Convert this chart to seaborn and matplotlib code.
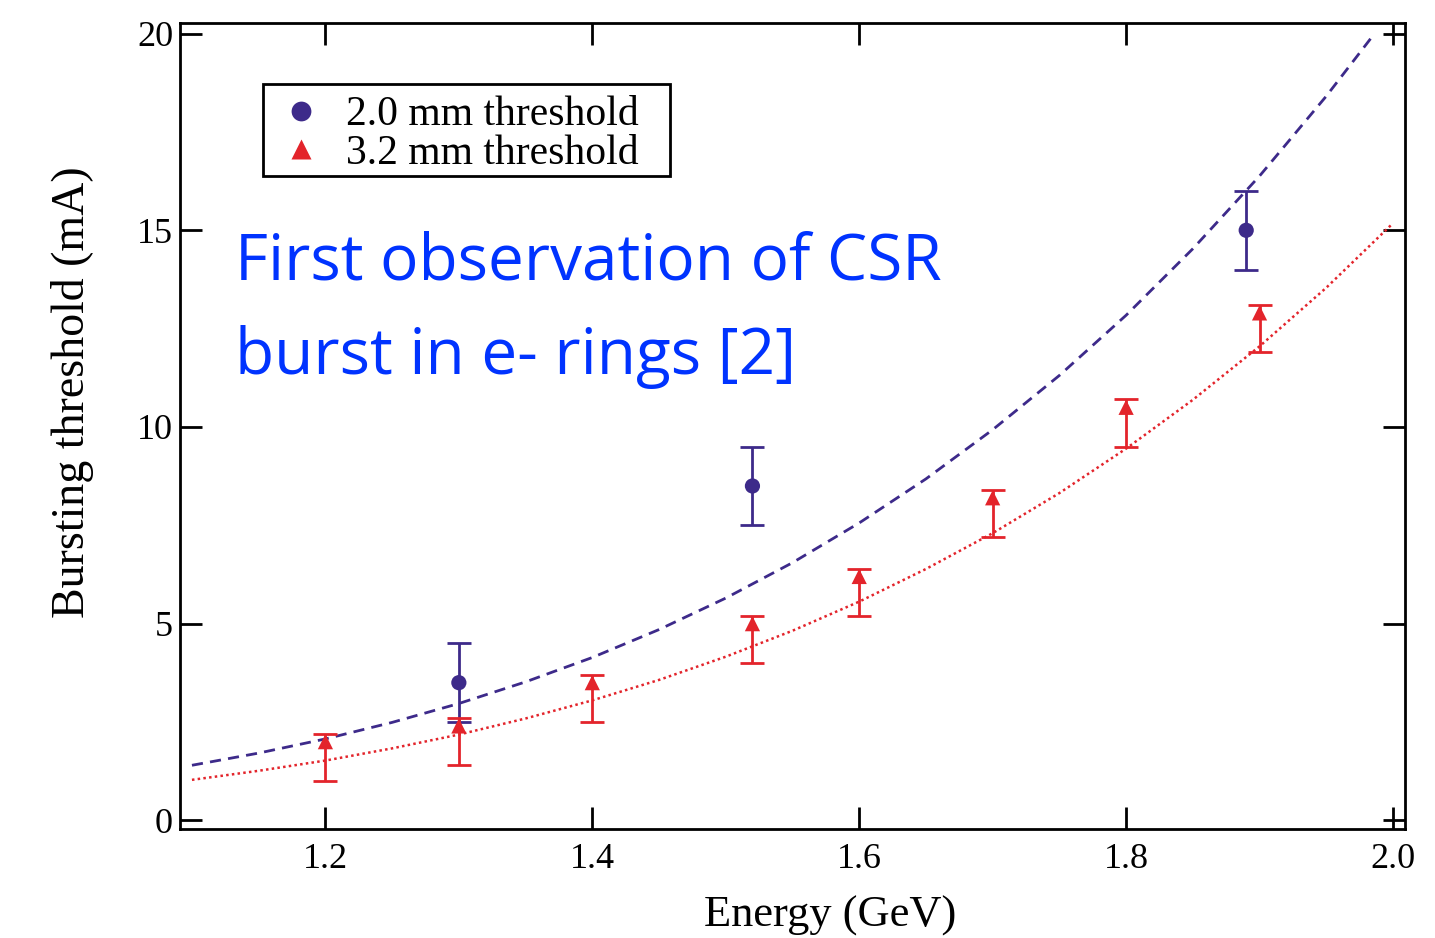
import matplotlib
matplotlib.use("Agg")
import matplotlib.pyplot as plt
from matplotlib.patches import Rectangle
import seaborn as sns
import pandas as pd
import numpy as np

# ---- data ----
blue_x = [1.30, 1.52, 1.89]
blue_y = [3.5, 8.5, 15.0]
blue_err_lo = [1.0, 1.0, 1.0]
blue_err_hi = [1.0, 1.0, 1.0]

red_x = [1.20, 1.30, 1.40, 1.52, 1.60, 1.70, 1.80, 1.90]
red_y = [2.0, 2.4, 3.5, 5.0, 6.2, 8.2, 10.5, 12.9]
red_err_lo = [1.0, 1.0, 1.0, 1.0, 1.0, 1.0, 1.0, 1.0]
red_err_hi = [0.2, 0.2, 0.2, 0.2, 0.2, 0.2, 0.2, 0.2]

fit_blue_x = [1.10, 1.15, 1.20, 1.25, 1.30, 1.35, 1.40, 1.45, 1.50, 1.55,
              1.60, 1.65, 1.70, 1.75, 1.80, 1.85, 1.90, 1.95, 1.985]
fit_blue_y = [1.40, 1.71, 2.07, 2.49, 2.97, 3.52, 4.14, 4.85, 5.65, 6.55,
              7.56, 8.68, 9.93, 11.31, 12.84, 14.53, 16.38, 18.41, 19.95]

fit_red_x = [1.10, 1.15, 1.20, 1.25, 1.30, 1.35, 1.40, 1.45, 1.50, 1.55,
             1.60, 1.65, 1.70, 1.75, 1.80, 1.85, 1.90, 1.95, 2.00]
fit_red_y = [1.03, 1.26, 1.52, 1.83, 2.18, 2.59, 3.05, 3.57, 4.16, 4.82,
             5.56, 6.39, 7.30, 8.32, 9.45, 10.69, 12.05, 13.54, 15.18]

x_ticks = [1.2, 1.4, 1.6, 1.8, 2.0]
x_tick_labels = ["1.2", "1.4", "1.6", "1.8", "2.0"]
y_ticks = [0, 5, 10, 15, 20]
y_tick_labels = ["0", "5", "10", "15", "20"]

series_labels = ["2.0 mm threshold", "3.2 mm threshold"]
x_label = "Energy (GeV)"
y_label = "Bursting threshold (mA)"
overlay_text = "First observation of CSR\nburst in e- rings [2]"

BLUE = "#3d2a8a"
RED = "#e3242b"
TEXT_BLUE = "#0033ff"

W, H = 1435, 938

sns.set_theme(style="white")
plt.rcParams['font.family'] = ['Liberation Serif', 'DejaVu Serif']
plt.rcParams['text.color'] = 'black'

fig = plt.figure(figsize=(W / 100, H / 100), dpi=100)
ax = fig.add_axes([0.1254, 0.1162, 0.9791 - 0.1254, 0.9755 - 0.1162])

df_fb = pd.DataFrame({"x": fit_blue_x, "y": fit_blue_y})
df_fr = pd.DataFrame({"x": fit_red_x, "y": fit_red_y})
sns.lineplot(data=df_fb, x="x", y="y", ax=ax, color=BLUE, lw=2.0,
             linestyle=(0, (4.0, 2.6)), legend=False)
sns.lineplot(data=df_fr, x="x", y="y", ax=ax, color=RED, lw=1.8,
             linestyle=(0, (1.0, 1.3)), legend=False)

ax.errorbar(blue_x, blue_y, yerr=[blue_err_lo, blue_err_hi], fmt="none",
            ecolor=BLUE, elinewidth=2.0, capsize=8.5, capthick=2.0, zorder=3)
ax.errorbar(red_x, red_y, yerr=[red_err_lo, red_err_hi], fmt="none",
            ecolor=RED, elinewidth=2.0, capsize=8.5, capthick=2.0, zorder=3)

df_b = pd.DataFrame({"x": blue_x, "y": blue_y, "s": series_labels[0]})
df_r = pd.DataFrame({"x": red_x, "y": red_y, "s": series_labels[1]})
df_pts = pd.concat([df_b, df_r], ignore_index=True)
sns.scatterplot(data=df_pts, x="x", y="y", hue="s", style="s",
                palette={series_labels[0]: BLUE, series_labels[1]: RED},
                markers={series_labels[0]: "o", series_labels[1]: "^"},
                s=120, edgecolor="none", ax=ax, zorder=4)

ax.set_xlim(1.091, 2.009)
ax.set_ylim(-0.22, 20.27)
ax.set_xticks(x_ticks)
ax.set_xticklabels(x_tick_labels)
ax.set_yticks(y_ticks)
ax.set_yticklabels(y_tick_labels)
ax.tick_params(direction="in", length=16, width=2.0, colors="black",
               labelsize=26, top=True, right=True, bottom=True, left=True,
               pad=5)
ax.tick_params(axis="x", pad=10)
for sp in ax.spines.values():
    sp.set_color("black")
    sp.set_linewidth(2.0)

ax.set_xlabel(x_label, fontsize=32, color="black")
ax.xaxis.set_label_coords(0.531, -0.083)
ax.set_ylabel(y_label, fontsize=33, color="black")
ax.yaxis.set_label_coords(-0.070, 0.542)

handles, labels = ax.get_legend_handles_labels()
leg = ax.legend(handles, labels, loc="upper left",
                bbox_to_anchor=(0.0678, 0.920), borderaxespad=0,
                fontsize=30, frameon=False,
                handletextpad=0.4, borderpad=0.2, labelspacing=0.0,
                markerscale=1.3, handlelength=1.4)
for t in leg.get_texts():
    t.set_color("black")

# legend frame box (pixel extents of the reference box)
box_l, box_r, box_t, box_b = 263, 670, 84, 176
fig.patches.append(Rectangle((box_l / W, 1 - box_b / H),
                             (box_r - box_l) / W, (box_b - box_t) / H,
                             transform=fig.transFigure, fill=False,
                             edgecolor="black", linewidth=2.0, zorder=5))

fig.text(235 / W, 1 - 230 / H, overlay_text, fontsize=46,
         color=TEXT_BLUE, family=['Open Sans', 'DejaVu Sans'],
         va='top', ha='left', linespacing=1.63)

fig.savefig("out.png", dpi=100, facecolor="white")
